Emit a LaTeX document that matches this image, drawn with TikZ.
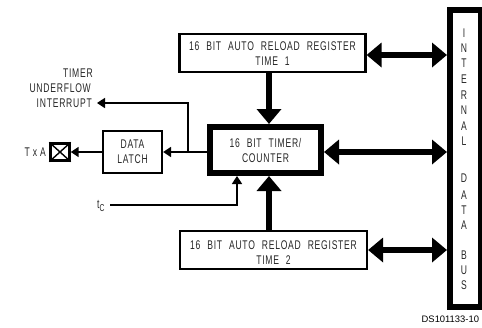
\documentclass[tikz,border=0pt]{standalone}
\usepackage{fontspec}
\setmainfont{Liberation Sans}
\newfontfamily\dinfont[FakeStretch=0.68,LetterSpace=6,WordSpace=2.2]{Liberation Sans}
\usetikzlibrary{arrows.meta,calc}
\newcommand\lowertext[2]{\raisebox{-#1}[\height][\depth]{#2}}
\tikzset{
  lbl/.style={font=\fontsize{12.6}{15}\selectfont\dinfont,align=center,inner sep=0pt,text=black!85},
  regbox/.style={draw,line width=2.2pt,minimum width=#1,minimum height=38pt,inner sep=0pt,lbl},
  thick arrow/.style={line width=6.5pt,-{Triangle[length=15pt,width=24pt]}},
  double arrow/.style={line width=6.5pt,{Triangle[length=15pt,width=24pt]}-{Triangle[length=15pt,width=24pt]}},
  thin arrow/.style={line width=1.7pt,-{Triangle[length=8pt,width=10pt]}},
}
\begin{document}
\begin{tikzpicture}[x=1pt,y=-1pt]
\useasboundingbox (0,0) rectangle (482,327);
\clip (0,0) rectangle (482,327);
\node[regbox=186pt] (top) at (272.5,53) {\lowertext{1pt}{16 BIT AUTO RELOAD REGISTER}\\\lowertext{1pt}{TIME 1}};
\node[regbox=187pt] (bot) at (273.5,250) {\lowertext{2.5pt}{16 BIT AUTO RELOAD REGISTER}\\\lowertext{2.5pt}{TIME 2}};
\node[draw,line width=6pt,minimum width=111pt,minimum height=46pt,inner sep=0pt,lbl] (timer) at (265.5,150) {16 BIT TIMER/\\COUNTER};
\node[draw,line width=2.2pt,minimum width=59pt,minimum height=42pt,inner sep=0pt,lbl] (latch) at (132.5,152) {DATA\\LATCH};
\node[draw,line width=6pt,minimum width=31pt,minimum height=297pt,inner sep=0pt] (bus) at (465.5,158.5) {};
\node[draw,line width=2.4pt,minimum width=19pt,minimum height=17pt,inner sep=0pt] (txa) at (60,152) {};
\draw[line width=1.4pt] (txa.north west) -- (txa.south east) (txa.north east) -- (txa.south west);
% letters of the bus
\foreach \c/\y/\n in {I/33/a,N/48/b,T/63/c,E/79/d,R/95/e,N/110/f,A/126/g,L/141/h,D/178/i,A/195/j,T/210/k,A/225/l,B/255/m,U/270/n,S/285/o}
  \node[lbl] (bus\n) at (464,\y) {\c};
% labels
\node[lbl,anchor=east] (txl) at (46,152) {\spaceskip=3pt T x A};
\node[lbl,anchor=east] (l1) at (93,73) {TIMER};
\node[lbl,anchor=east] (l2) at (91,88) {UNDERFLOW};
\node[lbl,anchor=east] (l3) at (92,103) {INTERRUPT};
\node[lbl,anchor=base west] (tc) at (97,208) {t\raisebox{-3pt}{\fontsize{10}{10}\selectfont\dinfont C}};
\node[anchor=west,inner sep=0pt,font=\fontsize{9.4}{10}\selectfont] (ds) at (421.5,319) {DS101133-10};
% coordinates
\coordinate (junc) at (188,152);
\coordinate (jtop) at (junc |- l3.east);
\coordinate (tcs) at (110,205);
\coordinate (tcb) at (237,205);
% connectors
\draw[thick arrow] (top.south -| 269,0) -- (269,0 |- timer.north);
\draw[thick arrow] (bot.north -| 269,0) -- (269,0 |- timer.south);
\draw[double arrow] ([yshift=-2pt]top.east) -- ([yshift=-2pt]top.east -| bus.west);
\draw[double arrow] (timer.east |- latch.east) -- (bus.west |- latch.east);
\draw[double arrow] (bot.east) -- (bot.east -| bus.west);
\draw[thin arrow] (timer.west |- latch.east) -- (latch.east);
\draw[thin arrow] (latch.west) -- (txa.east);
\draw[thin arrow,line join=miter] (junc) -- (jtop) -- ([xshift=5pt]l3.east);
\draw[thin arrow,line join=miter] (tcs) -- (tcb) -- (tcb |- timer.south);
\end{tikzpicture}
\end{document}
